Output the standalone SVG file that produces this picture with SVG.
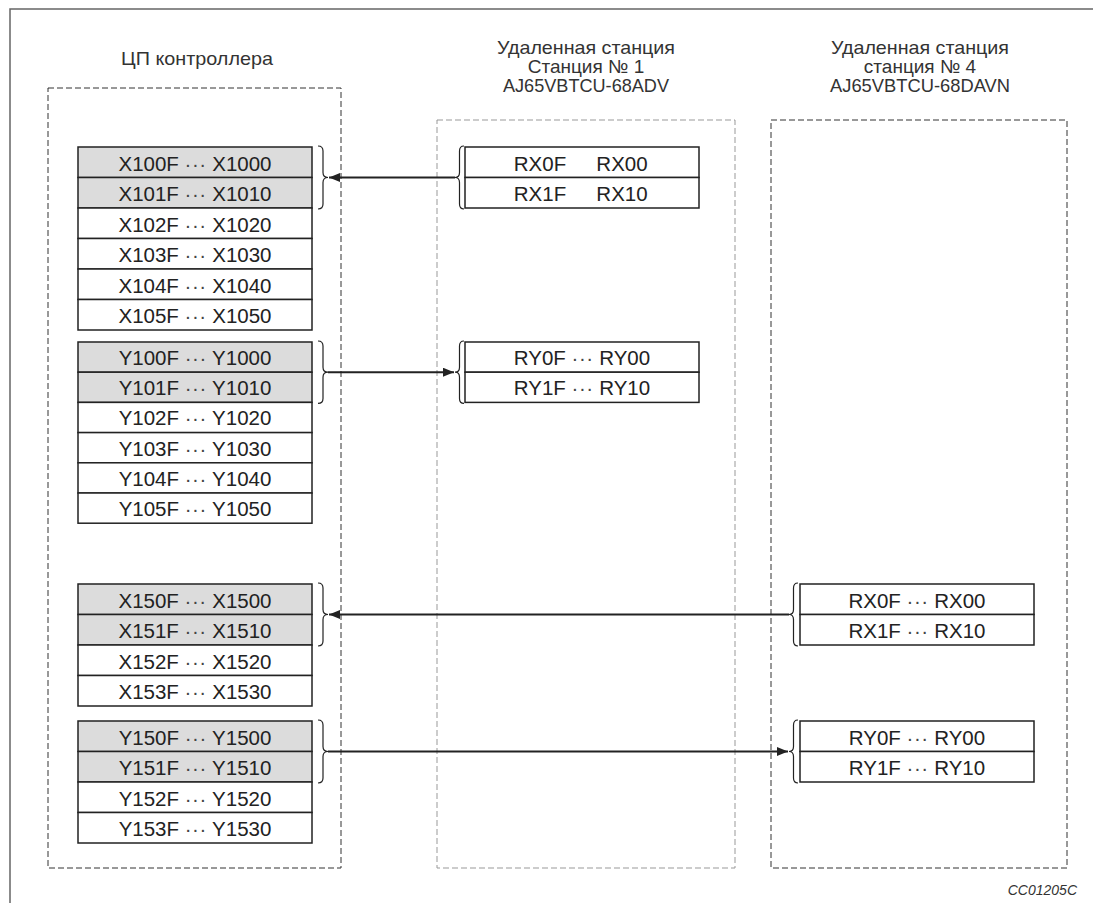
<svg xmlns="http://www.w3.org/2000/svg" width="1093" height="903" viewBox="0 0 1093 903">
<defs>
<style>
.frame{fill:none;stroke:#666;stroke-width:1.5}
.dd{fill:none;stroke:#333;stroke-width:1;stroke-dasharray:6 3}
.dl{fill:none;stroke:#999;stroke-width:1;stroke-dasharray:6 3}
.g{fill:#dcdcdc;stroke:#222;stroke-width:1.5}
.w{fill:#fff;stroke:#222;stroke-width:1.5}
.t{font-family:"Liberation Sans",Arial,sans-serif;font-size:20.5px;fill:#222;text-anchor:middle}
.h{font-family:"Liberation Sans",Arial,sans-serif;font-size:19px;fill:#333;text-anchor:middle}
.d{letter-spacing:0.5px;fill:#444}
.br{fill:none;stroke:#222;stroke-width:1.2}
.ar{fill:none;stroke:#222;stroke-width:2}
.cc{font-family:"Liberation Sans",Arial,sans-serif;font-size:14px;font-style:italic;fill:#333;text-anchor:end}
</style>
<marker id="ah" markerUnits="userSpaceOnUse" markerWidth="12" markerHeight="9" refX="11" refY="4.5" orient="auto">
<path d="M0,0 L11,4.5 L0,9 z" fill="#222"/>
</marker>
</defs>
<rect width="1093" height="903" fill="#fff"/>
<path class="frame" d="M10,903 L10,9 L1093,9"/>

<g id="cpu">
<text class="h" x="197" y="65" textLength="152" lengthAdjust="spacingAndGlyphs">ЦП контроллера</text>
<rect class="dd" x="48" y="88" width="293" height="780"/>
</g>

<g id="station1">
<text class="h" x="586" y="54" textLength="178" lengthAdjust="spacingAndGlyphs">Удаленная станция</text>
<text class="h" x="586" y="73">Станция № 1</text>
<text class="h" x="586" y="92" textLength="166" lengthAdjust="spacingAndGlyphs">AJ65VBTCU-68ADV</text>
<rect class="dl" x="437" y="120" width="298" height="748"/>
</g>

<g id="station4">
<text class="h" x="920" y="54" textLength="178" lengthAdjust="spacingAndGlyphs">Удаленная станция</text>
<text class="h" x="920" y="73">станция № 4</text>
<text class="h" x="920" y="92" textLength="180" lengthAdjust="spacingAndGlyphs">AJ65VBTCU-68DAVN</text>
<rect class="dd" x="771" y="120" width="296" height="748"/>
</g>

<g id="x100-table">
<rect class="g" x="78" y="147" width="234" height="30.5"/>
<rect class="g" x="78" y="177.5" width="234" height="30.5"/>
<rect class="w" x="78" y="208" width="234" height="30.5"/>
<rect class="w" x="78" y="238.5" width="234" height="30.5"/>
<rect class="w" x="78" y="269" width="234" height="30.5"/>
<rect class="w" x="78" y="299.5" width="234" height="30.5"/>
<text class="t" x="195" y="170.5">X100F <tspan class="d">···</tspan> X1000</text>
<text class="t" x="195" y="201">X101F <tspan class="d">···</tspan> X1010</text>
<text class="t" x="195" y="231.5">X102F <tspan class="d">···</tspan> X1020</text>
<text class="t" x="195" y="262">X103F <tspan class="d">···</tspan> X1030</text>
<text class="t" x="195" y="292.5">X104F <tspan class="d">···</tspan> X1040</text>
<text class="t" x="195" y="323">X105F <tspan class="d">···</tspan> X1050</text>
<path class="br" d="M318,146 Q323,146 323,151 L323,172.5 Q323,177.5 328,177.5 Q323,177.5 323,182.5 L323,204 Q323,209 318,209"/>
</g>

<g id="y100-table">
<rect class="g" x="78" y="342" width="234" height="30.2"/>
<rect class="g" x="78" y="372.2" width="234" height="30.2"/>
<rect class="w" x="78" y="402.4" width="234" height="30.2"/>
<rect class="w" x="78" y="432.6" width="234" height="30.2"/>
<rect class="w" x="78" y="462.8" width="234" height="30.2"/>
<rect class="w" x="78" y="493" width="234" height="30.2"/>
<text class="t" x="195" y="365">Y100F <tspan class="d">···</tspan> Y1000</text>
<text class="t" x="195" y="395.2">Y101F <tspan class="d">···</tspan> Y1010</text>
<text class="t" x="195" y="425.4">Y102F <tspan class="d">···</tspan> Y1020</text>
<text class="t" x="195" y="455.6">Y103F <tspan class="d">···</tspan> Y1030</text>
<text class="t" x="195" y="485.8">Y104F <tspan class="d">···</tspan> Y1040</text>
<text class="t" x="195" y="516">Y105F <tspan class="d">···</tspan> Y1050</text>
<path class="br" d="M318,341 Q323,341 323,346 L323,367.2 Q323,372.2 328,372.2 Q323,372.2 323,377.2 L323,398.4 Q323,403.4 318,403.4"/>
</g>

<g id="x150-table">
<rect class="g" x="78" y="584" width="234" height="30.5"/>
<rect class="g" x="78" y="614.5" width="234" height="30.5"/>
<rect class="w" x="78" y="645" width="234" height="30.5"/>
<rect class="w" x="78" y="675.5" width="234" height="30.5"/>
<text class="t" x="195" y="607.5">X150F <tspan class="d">···</tspan> X1500</text>
<text class="t" x="195" y="638">X151F <tspan class="d">···</tspan> X1510</text>
<text class="t" x="195" y="668.5">X152F <tspan class="d">···</tspan> X1520</text>
<text class="t" x="195" y="699">X153F <tspan class="d">···</tspan> X1530</text>
<path class="br" d="M318,583 Q323,583 323,588 L323,609.5 Q323,614.5 328,614.5 Q323,614.5 323,619.5 L323,641 Q323,646 318,646"/>
</g>

<g id="y150-table">
<rect class="g" x="78" y="721" width="234" height="30.5"/>
<rect class="g" x="78" y="751.5" width="234" height="30.5"/>
<rect class="w" x="78" y="782" width="234" height="30.5"/>
<rect class="w" x="78" y="812.5" width="234" height="30.5"/>
<text class="t" x="195" y="744.5">Y150F <tspan class="d">···</tspan> Y1500</text>
<text class="t" x="195" y="775">Y151F <tspan class="d">···</tspan> Y1510</text>
<text class="t" x="195" y="805.5">Y152F <tspan class="d">···</tspan> Y1520</text>
<text class="t" x="195" y="836">Y153F <tspan class="d">···</tspan> Y1530</text>
<path class="br" d="M318,720 Q323,720 323,725 L323,746.5 Q323,751.5 328,751.5 Q323,751.5 323,756.5 L323,778 Q323,783 318,783"/>
</g>

<g id="s1-rx">
<rect class="w" x="465" y="147" width="234" height="30.5"/>
<rect class="w" x="465" y="177.5" width="234" height="30.5"/>
<text class="t" x="540" y="170.5">RX0F</text>
<text class="t" x="622" y="170.5">RX00</text>
<text class="t" x="540" y="201">RX1F</text>
<text class="t" x="622" y="201">RX10</text>
<path class="br" d="M464,146 Q459.5,146 459.5,151 L459.5,172.5 Q459.5,177.5 455,177.5 Q459.5,177.5 459.5,182.5 L459.5,204 Q459.5,209 464,209"/>
</g>

<g id="s1-ry">
<rect class="w" x="465" y="342" width="234" height="30.2"/>
<rect class="w" x="465" y="372.2" width="234" height="30.2"/>
<text class="t" x="582" y="365">RY0F <tspan class="d">···</tspan> RY00</text>
<text class="t" x="582" y="395.2">RY1F <tspan class="d">···</tspan> RY10</text>
<path class="br" d="M464,341 Q459.5,341 459.5,346 L459.5,367.2 Q459.5,372.2 455,372.2 Q459.5,372.2 459.5,377.2 L459.5,398.4 Q459.5,403.4 464,403.4"/>
</g>

<g id="s4-rx">
<rect class="w" x="800" y="584" width="234" height="30.5"/>
<rect class="w" x="800" y="614.5" width="234" height="30.5"/>
<text class="t" x="917" y="607.5">RX0F <tspan class="d">···</tspan> RX00</text>
<text class="t" x="917" y="638">RX1F <tspan class="d">···</tspan> RX10</text>
<path class="br" d="M798,583 Q793.5,583 793.5,588 L793.5,609.5 Q793.5,614.5 789,614.5 Q793.5,614.5 793.5,619.5 L793.5,641 Q793.5,646 798,646"/>
</g>

<g id="s4-ry">
<rect class="w" x="800" y="721" width="234" height="30.5"/>
<rect class="w" x="800" y="751.5" width="234" height="30.5"/>
<text class="t" x="917" y="744.5">RY0F <tspan class="d">···</tspan> RY00</text>
<text class="t" x="917" y="775">RY1F <tspan class="d">···</tspan> RY10</text>
<path class="br" d="M798,720 Q793.5,720 793.5,725 L793.5,746.5 Q793.5,751.5 789,751.5 Q793.5,751.5 793.5,756.5 L793.5,778 Q793.5,783 798,783"/>
</g>

<g id="connectors">
<line class="ar" x1="455" y1="177.5" x2="329" y2="177.5" marker-end="url(#ah)"/>
<line class="ar" x1="328" y1="372.2" x2="454" y2="372.2" marker-end="url(#ah)"/>
<line class="ar" x1="789" y1="614.5" x2="329" y2="614.5" marker-end="url(#ah)"/>
<line class="ar" x1="328" y1="751.5" x2="788" y2="751.5" marker-end="url(#ah)"/>
</g>

<text class="cc" x="1077" y="895">CC01205C</text>
</svg>
